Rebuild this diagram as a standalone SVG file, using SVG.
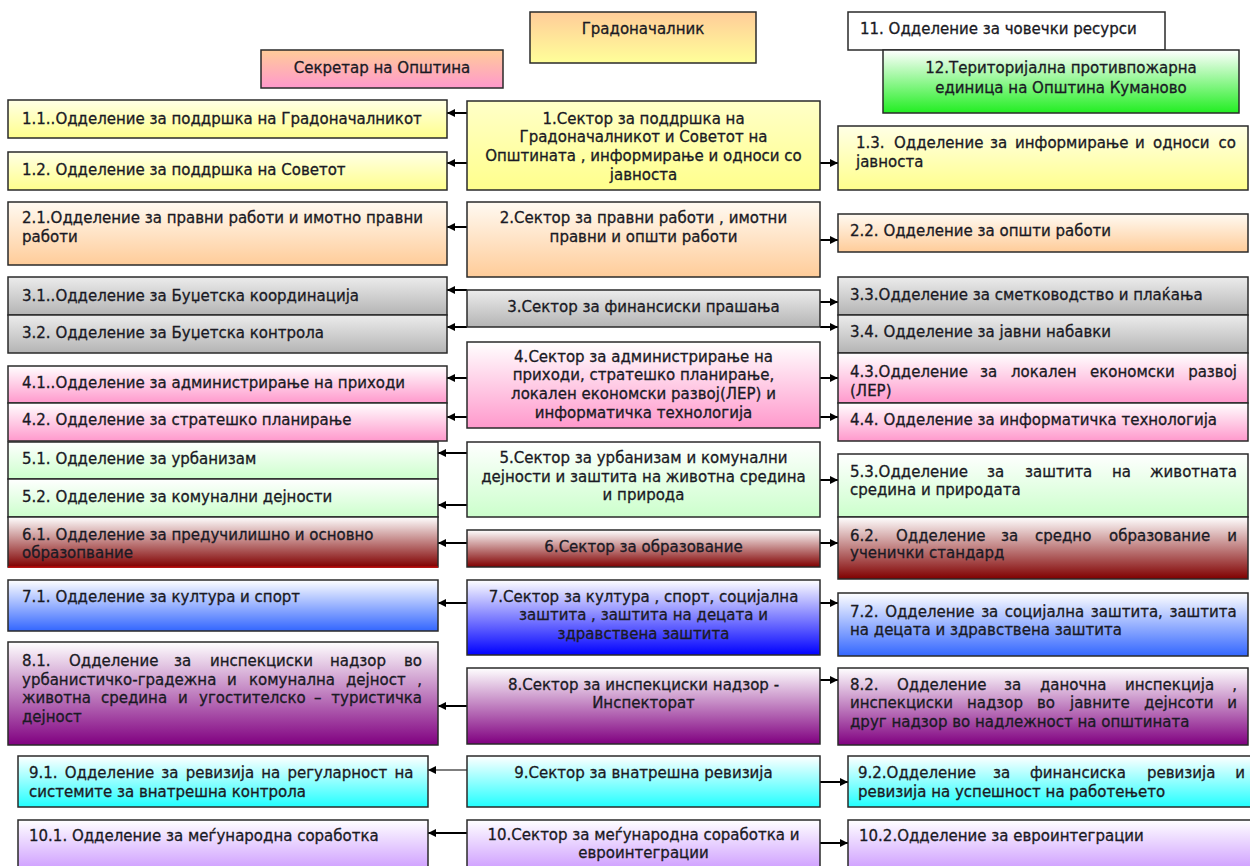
<svg xmlns="http://www.w3.org/2000/svg" width="1250" height="866" viewBox="0 0 1250 866">
<style>
.b{stroke:#2a2a2a;stroke-width:1.5}
text{font-family:"DejaVu Sans","Liberation Sans",sans-serif;font-size:15px;fill:#1a1a24;stroke:#1a1a24;stroke-width:0.3}
.c{text-anchor:middle}
.e{text-anchor:end}
.ln{stroke:#000;stroke-width:2;fill:none}
.thin{stroke:#000;stroke-width:1.2;fill:none}
</style>
<defs>
<marker id="ah" markerUnits="userSpaceOnUse" markerWidth="9" markerHeight="9" refX="8" refY="4.5" orient="auto">
<path d="M0,0.5 L8,4.5 L0,8.5 z" fill="#000"/>
</marker>
<linearGradient id="gMayor" x1="0" y1="0" x2="0" y2="1"><stop offset="0" stop-color="#ffcc99"/><stop offset="1" stop-color="#ffff99"/></linearGradient>
<linearGradient id="gSec" x1="0" y1="0" x2="0" y2="1"><stop offset="0" stop-color="#ffcc99"/><stop offset="1" stop-color="#ff99cc"/></linearGradient>
<linearGradient id="gYel" x1="0" y1="0" x2="0" y2="1"><stop offset="0" stop-color="#ffffe6"/><stop offset="1" stop-color="#ffff8c"/></linearGradient>
<linearGradient id="gYelS" x1="0" y1="0" x2="0" y2="1"><stop offset="0" stop-color="#ffffc8"/><stop offset="1" stop-color="#ffff8c"/></linearGradient>
<linearGradient id="gOra" x1="0" y1="0" x2="0" y2="1"><stop offset="0" stop-color="#fffaf2"/><stop offset="1" stop-color="#ffcc99"/></linearGradient>
<linearGradient id="gGray" x1="0" y1="0" x2="0" y2="1"><stop offset="0" stop-color="#ececec"/><stop offset="1" stop-color="#b4b4b4"/></linearGradient>
<linearGradient id="gPink" x1="0" y1="0" x2="0" y2="1"><stop offset="0" stop-color="#ffffff"/><stop offset="1" stop-color="#ff99cc"/></linearGradient>
<linearGradient id="gGrn" x1="0" y1="0" x2="0" y2="1"><stop offset="0" stop-color="#ffffff"/><stop offset="1" stop-color="#ccffcc"/></linearGradient>
<linearGradient id="gGrn12" x1="0" y1="0" x2="0" y2="1"><stop offset="0" stop-color="#ffffff"/><stop offset="1" stop-color="#22ee22"/></linearGradient>
<linearGradient id="gRed" x1="0" y1="0" x2="0" y2="1"><stop offset="0" stop-color="#ffffff"/><stop offset="1" stop-color="#800000"/></linearGradient>
<linearGradient id="gBlue" x1="0" y1="0" x2="0" y2="1"><stop offset="0" stop-color="#ffffff"/><stop offset="1" stop-color="#3366ff"/></linearGradient>
<linearGradient id="gBlueS" x1="0" y1="0" x2="0" y2="1"><stop offset="0" stop-color="#ffffff"/><stop offset="1" stop-color="#0000ff"/></linearGradient>
<linearGradient id="gPur" x1="0" y1="0" x2="0" y2="1"><stop offset="0" stop-color="#ffffff"/><stop offset="1" stop-color="#800080"/></linearGradient>
<linearGradient id="gCyan" x1="0" y1="0" x2="0" y2="1"><stop offset="0" stop-color="#ffffff"/><stop offset="1" stop-color="#22ffff"/></linearGradient>
<linearGradient id="gLav" x1="0" y1="0" x2="0" y2="1"><stop offset="0" stop-color="#ffffff"/><stop offset="1" stop-color="#cc99ff"/></linearGradient>
</defs>
<rect width="1250" height="866" fill="#ffffff"/>

<g id="connectors">
<line class="ln" x1="467" y1="113" x2="447" y2="113" marker-end="url(#ah)"/>
<line class="ln" x1="467" y1="163" x2="447" y2="163" marker-end="url(#ah)"/>
<line class="ln" x1="820" y1="163" x2="838" y2="163" marker-end="url(#ah)"/>
<line class="ln" x1="467" y1="227" x2="447" y2="227" marker-end="url(#ah)"/>
<line class="ln" x1="820" y1="240" x2="838" y2="240" marker-end="url(#ah)"/>
<line class="ln" x1="467" y1="290" x2="447" y2="290" marker-end="url(#ah)"/>
<line class="ln" x1="467" y1="327" x2="447" y2="327" marker-end="url(#ah)"/>
<line class="ln" x1="820" y1="302" x2="838" y2="302" marker-end="url(#ah)"/>
<line class="ln" x1="820" y1="327" x2="838" y2="327" marker-end="url(#ah)"/>
<line class="ln" x1="467" y1="378" x2="447" y2="378" marker-end="url(#ah)"/>
<line class="ln" x1="467" y1="417" x2="447" y2="417" marker-end="url(#ah)"/>
<line class="ln" x1="820" y1="378" x2="838" y2="378" marker-end="url(#ah)"/>
<line class="ln" x1="820" y1="417" x2="838" y2="417" marker-end="url(#ah)"/>
<line class="ln" x1="467" y1="453" x2="438" y2="453" marker-end="url(#ah)"/>
<line class="ln" x1="467" y1="505" x2="438" y2="505" marker-end="url(#ah)"/>
<line class="ln" x1="820" y1="480" x2="838" y2="480" marker-end="url(#ah)"/>
<line class="ln" x1="467" y1="543" x2="438" y2="543" marker-end="url(#ah)"/>
<line class="ln" x1="820" y1="543" x2="838" y2="543" marker-end="url(#ah)"/>
<line class="ln" x1="467" y1="603" x2="438" y2="603" marker-end="url(#ah)"/>
<line class="ln" x1="820" y1="603" x2="838" y2="603" marker-end="url(#ah)"/>
<line class="ln" x1="467" y1="706" x2="438" y2="706" marker-end="url(#ah)"/>
<line class="ln" x1="820" y1="680" x2="838" y2="680" marker-end="url(#ah)"/>
<line class="thin" x1="467" y1="770" x2="428" y2="770" marker-end="url(#ah)"/>
<line class="ln" x1="820" y1="782" x2="848" y2="782" marker-end="url(#ah)"/>
<line class="ln" x1="467" y1="833" x2="428" y2="833" marker-end="url(#ah)"/>
<line class="ln" x1="820" y1="843" x2="848" y2="843" marker-end="url(#ah)"/>
</g>

<g id="mayor"><rect class="b" x="530" y="12" width="226" height="51" fill="url(#gMayor)"/><text class="c" x="643" y="34">Градоначалник</text></g>
<g id="secretary"><rect class="b" x="261" y="50" width="242" height="38" fill="url(#gSec)"/><text class="c" x="382" y="73">Секретар на Општина</text></g>
<g id="n11"><rect class="b" x="848" y="12" width="317" height="38" fill="#ffffff"/><text x="860" y="34">11. Одделение за човечки ресурси</text></g>
<g id="n12"><rect class="b" x="883" y="50" width="356" height="63" fill="url(#gGrn12)"/><text class="c" x="1061" y="73">12.Територијална противпожарна</text><text class="c" x="1061" y="93">единица на Општина Куманово</text></g>

<g id="d1_1"><rect class="b" x="8" y="100" width="439" height="38" fill="url(#gYel)"/><text x="22" y="124">1.1..Одделение за поддршка на Градоначалникот</text></g>
<g id="d1_2"><rect class="b" x="8" y="152" width="439" height="38" fill="url(#gYel)"/><text x="22" y="175">1.2. Одделение за поддршка на Советот</text></g>
<g id="s1"><rect class="b" x="467" y="101" width="353" height="89" fill="url(#gYelS)"/>
<text class="c" x="643.5" y="124">1.Сектор за поддршка на</text>
<text class="c" x="643.5" y="142">Градоначалникот и Советот на</text>
<text class="c" x="643.5" y="161">Општината ,  информирање и односи со</text>
<text class="c" x="643.5" y="180">јавноста</text></g>
<g id="d1_3"><rect class="b" x="838" y="126" width="410" height="64" fill="url(#gYel)"/>
<text y="148"><tspan x="856">1.3.</tspan><tspan x="894">Одделение</tspan><tspan x="990">за</tspan><tspan x="1015">информирање</tspan><tspan x="1135">и</tspan><tspan x="1153">односи</tspan></text><text class="e" x="1236" y="148">со</text>
<text x="856" y="167">јавноста</text></g>

<g id="d2_1"><rect class="b" x="8" y="202" width="439" height="63" fill="url(#gOra)"/><text x="22" y="223">2.1.Одделение за правни работи и имотно правни</text><text x="22" y="242">работи</text></g>
<g id="s2"><rect class="b" x="467" y="202" width="353" height="75" fill="url(#gOra)"/><text class="c" x="643.5" y="223">2.Сектор за правни работи , имотни</text><text class="c" x="643.5" y="242">правни и општи работи</text></g>
<g id="d2_2"><rect class="b" x="838" y="214" width="410" height="38" fill="url(#gOra)"/><text x="850" y="236">2.2. Одделение за општи работи</text></g>

<g id="d3_1"><rect class="b" x="8" y="277" width="439" height="38" fill="url(#gGray)"/><text x="22" y="301">3.1..Одделение за Буџетска координација</text></g>
<g id="d3_2"><rect class="b" x="8" y="315" width="439" height="38" fill="url(#gGray)"/><text x="22" y="338">3.2. Одделение за Буџетска контрола</text></g>
<g id="s3"><rect class="b" x="467" y="290" width="353" height="37" fill="url(#gGray)"/><text class="c" x="643.5" y="312">3.Сектор за финансиски прашања</text></g>
<g id="d3_3"><rect class="b" x="838" y="277" width="410" height="38" fill="url(#gGray)"/><text x="850" y="300">3.3.Одделение за сметководство и плаќања</text></g>
<g id="d3_4"><rect class="b" x="838" y="315" width="410" height="38" fill="url(#gGray)"/><text x="850" y="337">3.4. Одделение за јавни набавки</text></g>

<g id="d4_1"><rect class="b" x="8" y="366" width="439" height="37" fill="url(#gPink)"/><text x="22" y="388">4.1..Одделение за администрирање на приходи</text></g>
<g id="d4_2"><rect class="b" x="8" y="403" width="439" height="38" fill="url(#gPink)"/><text x="22" y="425">4.2. Одделение за стратешко планирање</text></g>
<g id="s4"><rect class="b" x="467" y="342" width="353" height="86" fill="url(#gPink)"/>
<text class="c" x="643.5" y="362">4.Сектор за администрирање на</text>
<text class="c" x="643.5" y="380">приходи, стратешко планирање,</text>
<text class="c" x="643.5" y="399">локален економски развој(ЛЕР) и</text>
<text class="c" x="643.5" y="418">информатичка технологија</text></g>
<g id="d4_3"><rect class="b" x="838" y="353" width="410" height="50" fill="url(#gPink)"/>
<text y="377"><tspan x="850">4.3.Одделение</tspan><tspan x="980">за</tspan><tspan x="1011">локален</tspan><tspan x="1090">економски</tspan></text><text class="e" x="1237" y="377">развој</text>
<text x="850" y="396">(ЛЕР)</text></g>
<g id="d4_4"><rect class="b" x="838" y="403" width="410" height="38" fill="url(#gPink)"/><text x="850" y="425">4.4. Одделение за информатичка технологија</text></g>

<g id="d5_1"><rect class="b" x="8" y="442" width="430" height="37" fill="url(#gGrn)"/><text x="22" y="464">5.1. Одделение за урбанизам</text></g>
<g id="d5_2"><rect class="b" x="8" y="479" width="430" height="38" fill="url(#gGrn)"/><text x="22" y="502">5.2. Одделение за комунални дејности</text></g>
<g id="s5"><rect class="b" x="467" y="442" width="353" height="75" fill="url(#gGrn)"/>
<text class="c" x="643.5" y="463">5.Сектор за урбанизам и комунални</text>
<text class="c" x="643.5" y="482">дејности и заштита на животна средина</text>
<text class="c" x="643.5" y="500">и природа</text></g>
<g id="d5_3"><rect class="b" x="838" y="454" width="410" height="63" fill="url(#gGrn)"/>
<text y="477"><tspan x="850">5.3.Одделение</tspan><tspan x="987">за</tspan><tspan x="1025">заштита</tspan><tspan x="1112">на</tspan></text><text class="e" x="1237" y="477">животната</text>
<text x="850" y="495">средина и природата</text></g>

<g id="d6_1"><rect class="b" x="8" y="517" width="430" height="50" fill="url(#gRed)"/><line x1="8" y1="567" x2="438" y2="567" stroke="#cc0000" stroke-width="1.5"/><text x="22" y="540">6.1. Одделение за предучилишно и основно</text><text x="22" y="558">образопвание</text></g>
<g id="s6"><rect class="b" x="467" y="530" width="353" height="37" fill="url(#gRed)"/><text class="c" x="643.5" y="552">6.Сектор за образование</text></g>
<g id="d6_2"><rect class="b" x="838" y="517" width="410" height="62" fill="url(#gRed)"/>
<text y="541"><tspan x="850">6.2.</tspan><tspan x="896">Одделение</tspan><tspan x="1001">за</tspan><tspan x="1035">средно</tspan><tspan x="1109">образование</tspan></text><text class="e" x="1237" y="541">и</text>
<text x="850" y="558">ученички стандард</text></g>

<g id="d7_1"><rect class="b" x="8" y="580" width="430" height="51" fill="url(#gBlue)"/><text x="22" y="602">7.1. Одделение за култура и спорт</text></g>
<g id="s7"><rect class="b" x="467" y="580" width="353" height="75" fill="url(#gBlueS)"/>
<text class="c" x="643.5" y="602">7.Сектор за култура , спорт, социјална</text>
<text class="c" x="643.5" y="620">заштита , заштита на децата и</text>
<text class="c" x="643.5" y="639">здравствена заштита</text></g>
<g id="d7_2"><rect class="b" x="838" y="593" width="410" height="63" fill="url(#gBlue)"/><text x="850" y="617" word-spacing="1.8">7.2. Одделение за социјална заштита, заштита</text><text x="850" y="635">на децата и здравствена заштита</text></g>

<g id="d8_1"><rect class="b" x="8" y="642" width="430" height="103" fill="url(#gPur)"/>
<text y="666"><tspan x="22">8.1.</tspan><tspan x="69">Одделение</tspan><tspan x="174">за</tspan><tspan x="210">инспекциски</tspan><tspan x="330">надзор</tspan></text><text class="e" x="422" y="666">во</text>
<text y="685"><tspan x="22">урбанистичко-градежна</tspan><tspan x="227">и</tspan><tspan x="249">комунална</tspan><tspan x="346">дејност</tspan></text><text class="e" x="422" y="685">,</text>
<text y="703"><tspan x="22">животна</tspan><tspan x="101">средина</tspan><tspan x="178">и</tspan><tspan x="199">угостителско</tspan><tspan x="314">–</tspan></text><text class="e" x="422" y="703">туристичка</text>
<text x="22" y="722">дејност</text></g>
<g id="s8"><rect class="b" x="467" y="668" width="353" height="76" fill="url(#gPur)"/><text class="c" x="643.5" y="690">8.Сектор за инспекциски надзор -</text><text class="c" x="643.5" y="708">Инспекторат</text></g>
<g id="d8_2"><rect class="b" x="838" y="668" width="410" height="77" fill="url(#gPur)"/>
<text y="690"><tspan x="850">8.2.</tspan><tspan x="897">Одделение</tspan><tspan x="1004">за</tspan><tspan x="1040">даночна</tspan><tspan x="1125">инспекција</tspan></text><text class="e" x="1237" y="690">,</text>
<text y="708"><tspan x="850">инспекциски</tspan><tspan x="967">надзор</tspan><tspan x="1037">во</tspan><tspan x="1070">јавните</tspan><tspan x="1144">дејнсоти</tspan></text><text class="e" x="1237" y="708">и</text>
<text x="850" y="727">друг надзор во надлежност на општината</text></g>

<g id="d9_1"><rect class="b" x="18" y="756" width="410" height="51" fill="url(#gCyan)"/><text x="29" y="778" word-spacing="2.4">9.1. Одделение за ревизија на регуларност на</text><text x="29" y="797">системите за внатрешна контрола</text></g>
<g id="s9"><rect class="b" x="467" y="756" width="353" height="51" fill="url(#gCyan)"/><text class="c" x="643.5" y="778">9.Сектор за внатрешна ревизија</text></g>
<g id="d9_2"><rect class="b" x="848" y="756" width="410" height="51" fill="url(#gCyan)"/>
<text y="778"><tspan x="858">9.2.Одделение</tspan><tspan x="993">за</tspan><tspan x="1030">финансиска</tspan><tspan x="1147">ревизија</tspan></text><text class="e" x="1245" y="778">и</text>
<text x="858" y="797">ревизија на успешност на работењето</text></g>

<g id="d10_1"><rect class="b" x="18" y="820" width="410" height="52" fill="url(#gLav)"/><text x="29" y="841">10.1. Одделение за меѓународна соработка</text></g>
<g id="s10"><rect class="b" x="467" y="820" width="353" height="52" fill="url(#gLav)"/><text class="c" x="643.5" y="840">10.Сектор за меѓународна соработка и</text><text class="c" x="643.5" y="858">евроинтеграции</text></g>
<g id="d10_2"><rect class="b" x="848" y="820" width="410" height="52" fill="url(#gLav)"/><text x="859" y="841">10.2.Одделение за евроинтеграции</text></g>
</svg>
